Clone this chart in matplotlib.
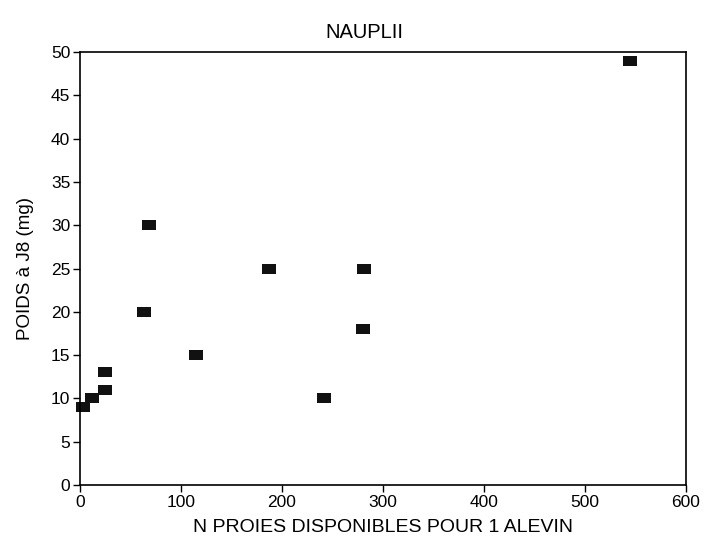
import numpy as np
import matplotlib
matplotlib.use("Agg")
import matplotlib.pyplot as plt

plt.rcParams["font.family"] = ["Liberation Sans", "DejaVu Sans"]

n_proies = [3, 12, 25, 25, 63, 68, 115, 187, 242, 280, 281, 545]
poids_j8 = [9, 10, 13, 11, 20, 30, 15, 25, 10, 18, 25, 49]

rect = [(-1.5, -1.05), (1.5, -1.05), (1.5, 1.05), (-1.5, 1.05), (-1.5, -1.05)]

fig = plt.figure(figsize=(7.1, 5.37), dpi=100)
ax = fig.add_axes([0.1127, 0.0968, 0.8535, 0.806])
ax.plot(n_proies, poids_j8, linestyle="none", marker=rect, markersize=9.5,
        color="#111111", markeredgewidth=0, clip_on=False)

ax.set_xlim(0, 600)
ax.set_ylim(0, 50)
ax.set_xticks(np.arange(0, 601, 100))
ax.set_yticks(np.arange(0, 51, 5))
ax.tick_params(labelsize=12.5, length=5, width=1, direction="out", pad=2)
for s in ax.spines.values():
    s.set_linewidth(1.2)

ax.set_title("NAUPLII", fontsize=14.5, x=0.47, pad=10)
ax.set_xlabel("N PROIES DISPONIBLES POUR 1 ALEVIN", fontsize=14, labelpad=7)
ax.set_ylabel("POIDS à J8 (mg)", fontsize=13.5, labelpad=12)

fig.savefig("out.png", dpi=100)
